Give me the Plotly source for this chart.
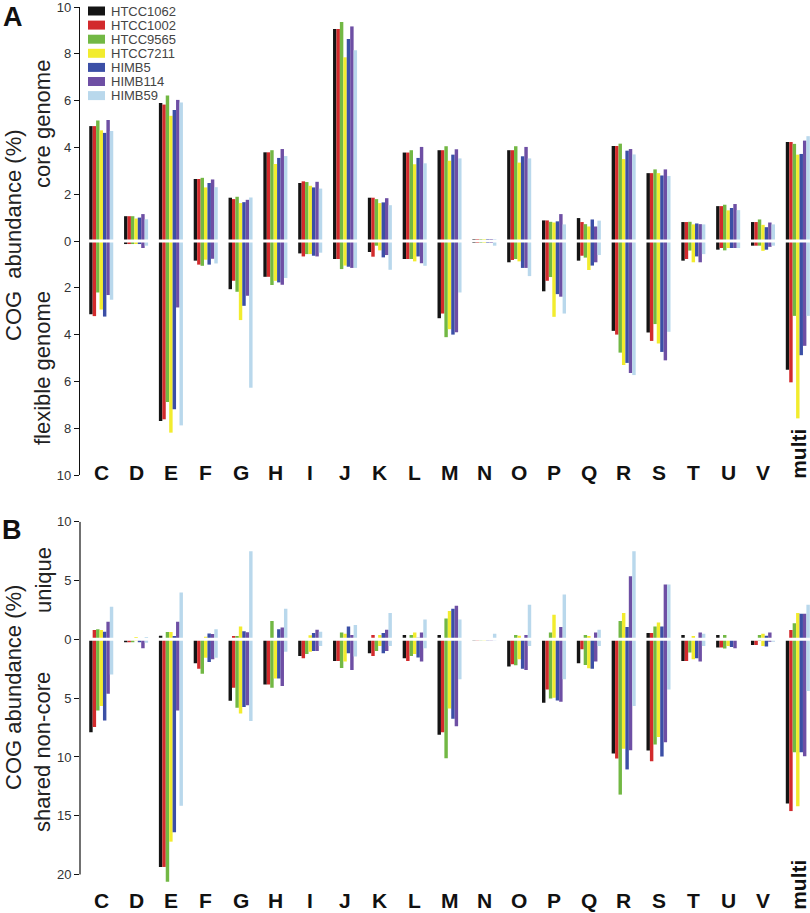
import plotly.graph_objects as go

CATS = ["C", "D", "E", "F", "G", "H", "I", "J", "K", "L", "M", "N", "O", "P", "Q", "R", "S", "T", "U", "V", "multi"]
STRAINS = ["HTCC1062", "HTCC1002", "HTCC9565", "HTCC7211", "HIMB5", "HIMB114", "HIMB59"]
COLORS = ["#141414", "#d22a2c", "#72b844", "#f2ec2e", "#3b4fa6", "#6e4fa4", "#b9d8ec"]

# Panel A: core genome (up) and flexible genome (down), %
CORE = {
    "HTCC1062": [4.91, 1.06, 5.90, 2.65, 1.85, 3.79, 2.48, 9.06, 1.85, 3.78, 3.88, 0.05, 3.88, 0.88, 0.98, 4.06, 2.90, 0.81, 1.49, 0.81, 4.23],
    "HTCC1002": [4.91, 1.06, 5.83, 2.65, 1.79, 3.79, 2.55, 9.06, 1.85, 3.78, 3.88, 0.05, 3.88, 0.88, 0.81, 4.06, 2.90, 0.81, 1.49, 0.81, 4.23],
    "HTCC9565": [5.15, 1.06, 6.22, 2.70, 1.89, 3.88, 2.52, 9.36, 1.79, 3.88, 4.05, 0.05, 4.05, 0.82, 0.72, 4.16, 3.06, 0.82, 1.55, 0.92, 4.15],
    "HTCC7211": [4.73, 0.96, 5.35, 2.29, 1.62, 3.29, 2.36, 7.85, 1.62, 3.28, 3.43, 0.05, 3.35, 0.79, 0.62, 3.50, 2.90, 0.71, 1.31, 0.69, 3.69],
    "HIMB5":    [4.62, 1.00, 5.60, 2.48, 1.66, 3.55, 2.29, 8.63, 1.65, 3.55, 3.69, 0.05, 3.62, 0.84, 0.92, 3.86, 2.80, 0.75, 1.41, 0.59, 3.72],
    "HIMB114":  [5.17, 1.15, 6.03, 2.63, 1.76, 3.93, 2.53, 9.17, 1.83, 4.02, 3.92, 0.05, 4.02, 1.15, 0.62, 3.93, 3.06, 0.72, 1.58, 0.79, 4.29],
    "HIMB59":   [4.70, 0.93, 5.92, 2.30, 1.86, 3.63, 2.24, 8.15, 1.53, 3.32, 3.53, 0.05, 3.53, 0.71, 0.87, 3.70, 2.78, 0.71, 1.32, 0.71, 4.48],
}
FLEX = {
    "HTCC1062": [3.13, 0.13, 7.69, 0.84, 2.06, 1.53, 0.53, 0.77, 0.47, 0.77, 3.30, 0.05, 0.91, 2.15, 0.84, 3.84, 3.91, 0.84, 0.37, 0.20, 5.50],
    "HTCC1002": [3.21, 0.13, 7.62, 1.01, 1.70, 1.53, 0.66, 0.77, 0.67, 0.77, 3.10, 0.05, 0.81, 1.70, 0.63, 4.00, 4.27, 0.77, 0.30, 0.20, 6.04],
    "HTCC9565": [2.20, 0.13, 6.88, 1.06, 2.17, 1.88, 0.56, 1.20, 0.20, 0.77, 4.11, 0.05, 0.77, 1.54, 0.71, 4.77, 3.55, 0.41, 0.40, 0.20, 3.20],
    "HTCC7211": [2.93, 0.13, 8.19, 0.80, 3.38, 1.70, 0.56, 1.05, 0.40, 0.87, 3.77, 0.05, 0.87, 3.24, 1.24, 5.30, 4.38, 0.91, 0.30, 0.42, 7.58],
    "HIMB5":    [3.23, 0.13, 7.19, 1.01, 2.77, 1.77, 0.63, 1.10, 0.70, 0.66, 4.00, 0.05, 1.15, 2.27, 1.05, 5.21, 4.74, 0.66, 0.30, 0.37, 4.88],
    "HIMB114":  [2.31, 0.30, 2.84, 0.76, 2.34, 1.87, 0.66, 1.15, 0.60, 0.95, 3.90, 0.05, 1.15, 2.38, 0.91, 5.64, 5.10, 0.91, 0.30, 0.25, 4.48],
    "HIMB59":   [2.51, 0.20, 7.88, 0.96, 6.27, 1.58, 0.50, 1.15, 1.23, 1.06, 2.20, 0.20, 1.50, 3.10, 0.60, 5.73, 3.88, 0.56, 0.30, 0.20, 3.20],
}
# Panel B: unique (up) and shared non-core (down), %
UNIQUE = {
    "HTCC1062": [0.00, 0.00, 0.30, 0.00, 0.00, 0.00, 0.00, 0.00, 0.00, 0.37, 0.37, 0.05, 0.00, 0.00, 0.00, 0.00, 0.54, 0.37, 0.37, 0.00, 0.00],
    "HTCC1002": [0.79, 0.00, 0.00, 0.00, 0.28, 0.00, 0.00, 0.00, 0.37, 0.00, 0.00, 0.05, 0.00, 0.00, 0.00, 0.00, 0.54, 0.00, 0.00, 0.00, 0.79],
    "HTCC9565": [0.85, 0.00, 0.62, 0.00, 0.28, 1.55, 0.00, 0.59, 0.00, 0.37, 1.78, 0.05, 0.37, 0.59, 0.37, 1.55, 1.10, 0.00, 0.37, 0.37, 1.36],
    "HTCC7211": [0.79, 0.20, 0.62, 0.22, 1.10, 0.00, 0.34, 0.48, 0.37, 0.59, 2.40, 0.05, 0.31, 2.09, 0.28, 2.23, 1.44, 0.28, 0.00, 0.48, 2.23],
    "HIMB5":    [0.65, 0.00, 0.28, 0.50, 0.68, 0.85, 0.54, 1.10, 0.54, 0.14, 2.60, 0.05, 0.00, 0.00, 0.00, 1.05, 1.10, 0.00, 0.00, 0.31, 2.18],
    "HIMB114":  [1.50, 0.00, 1.50, 0.45, 0.60, 1.00, 0.82, 0.37, 0.82, 0.59, 2.85, 0.05, 0.37, 1.05, 0.59, 5.37, 4.66, 0.59, 0.00, 0.59, 2.18],
    "HIMB59":   [2.77, 0.20, 3.98, 0.85, 7.48, 2.60, 0.65, 1.21, 2.23, 1.69, 1.69, 0.48, 2.94, 3.81, 0.82, 7.49, 4.66, 0.48, 0.00, 0.00, 2.94],
}
SHARED = {
    "HTCC1062": [7.89, 0.25, 19.35, 2.04, 5.22, 3.83, 1.41, 1.84, 1.19, 1.61, 8.11, 0.10, 2.32, 5.39, 2.03, 9.70, 9.45, 1.84, 0.70, 0.48, 13.96],
    "HTCC1002": [7.46, 0.25, 19.35, 2.50, 4.11, 3.83, 1.61, 1.84, 1.41, 1.84, 7.89, 0.10, 2.12, 4.26, 0.85, 10.13, 10.36, 1.84, 0.70, 0.48, 14.60],
    "HTCC9565": [6.04, 0.25, 20.60, 2.92, 5.81, 4.11, 1.24, 2.43, 0.99, 1.41, 10.10, 0.10, 2.20, 5.02, 2.18, 13.20, 8.94, 1.13, 0.79, 0.14, 9.59],
    "HTCC7211": [5.67, 0.10, 17.20, 1.56, 6.30, 3.32, 1.05, 1.89, 0.56, 1.24, 5.87, 0.10, 1.70, 4.96, 2.46, 9.30, 8.30, 1.70, 0.56, 0.56, 14.19],
    "HIMB5":    [6.90, 0.25, 16.40, 1.93, 5.75, 3.32, 1.00, 1.19, 1.19, 1.55, 6.75, 0.10, 2.50, 5.19, 2.51, 11.06, 9.96, 1.61, 0.65, 0.62, 9.60],
    "HIMB114":  [4.62, 0.76, 6.04, 1.70, 5.60, 3.97, 0.99, 2.60, 0.99, 1.89, 7.38, 0.10, 2.60, 5.30, 1.89, 9.42, 8.74, 1.89, 0.76, 0.20, 9.93],
    "HIMB59":   [3.00, 0.30, 14.15, 1.56, 6.95, 1.05, 0.56, 1.47, 0.56, 0.76, 3.40, 0.10, 0.56, 3.40, 0.56, 5.67, 4.26, 0.56, 0.00, 0.20, 4.40],
}

A_TICKS = [-10, -8, -6, -4, -2, 0, 2, 4, 6, 8, 10]
B_TICKS = [-20, -15, -10, -5, 0, 5, 10]

FONT = "Liberation Sans, Arial, sans-serif"
W, H = 810, 913
ML, MR, MT, MB = 80, 0, 7, 29
PW, PH = W - ML - MR, H - MT - MB


def px(xp):
    return (xp - ML) / PW


def py(yp):
    return (H - MB - yp) / PH


fig = go.Figure()
for s, c in zip(STRAINS, COLORS):
    fig.add_trace(go.Bar(
        x=CATS + CATS, y=CORE[s] + [-v for v in FLEX[s]],
        name=s, marker=dict(color=c, line=dict(width=0)),
        xaxis="x", yaxis="y", showlegend=False, cliponaxis=False))
for s, c in zip(STRAINS, COLORS):
    fig.add_trace(go.Bar(
        x=CATS + CATS, y=UNIQUE[s] + [-v for v in SHARED[s]],
        name=s, marker=dict(color=c, line=dict(width=0)),
        xaxis="x2", yaxis="y2", showlegend=False, cliponaxis=False))

xr = [-0.61, 20.35]
common_x = dict(type="category", categoryorder="array", categoryarray=CATS, range=xr,
                showticklabels=False, showline=False, ticks="", showgrid=False, zeroline=False,
                automargin=False, fixedrange=True)
tick_font = dict(family=FONT, size=13, color="#333")

dom_a = [py(475), 1.0]
dom_b = [0.0, py(521.7)]

fig.update_layout(
    template="none",
    width=W, height=H, margin=dict(l=ML, r=MR, t=MT, b=MB, autoexpand=False),
    paper_bgcolor="white", plot_bgcolor="white",
    barmode="group", bargap=0.31, bargroupgap=0,
    xaxis=dict(anchor="y", domain=[0, 1], **common_x),
    xaxis2=dict(anchor="y2", domain=[0, 1], **common_x),
    yaxis=dict(domain=dom_a, range=[-10, 10], tickvals=A_TICKS, automargin=False,
               ticktext=[str(abs(v)) for v in A_TICKS], ticks="outside", ticklen=5,
               tickcolor="#111", tickwidth=1, showline=True, linecolor="#111", linewidth=1.2,
               showgrid=False, zeroline=False, tickfont=tick_font, ticklabeloverflow="allow",
               fixedrange=True),
    yaxis2=dict(domain=dom_b, range=[-20.8, 10], tickvals=B_TICKS, automargin=False,
                ticktext=[str(abs(v)) for v in B_TICKS], ticks="outside", ticklen=5,
                tickcolor="#111", tickwidth=1, showline=False,
                showgrid=False, zeroline=False, tickfont=tick_font, ticklabeloverflow="allow",
                fixedrange=True),
    showlegend=False,
)

shapes = [
    dict(type="line", xref="paper", yref="y", x0=0.004, x1=1, y0=0, y1=0,
         line=dict(color="white", width=3), layer="above"),
    dict(type="line", xref="paper", yref="y2", x0=0.004, x1=1, y0=0, y1=0,
         line=dict(color="white", width=3), layer="above"),
    dict(type="line", xref="paper", yref="y2", x0=0, x1=0, y0=-20, y1=10,
         line=dict(color="#111", width=1.2)),
]

annotations = []
# category labels
for cat in CATS:
    for xref, ycen, ymulti in (("x", py(472), py(454)), ("x2", py(901), py(885))):
        if cat == "multi":
            annotations.append(dict(x=cat, xref=xref, y=ymulti, yref="paper", text="<b>multi</b>",
                                    textangle=-90, showarrow=False, xanchor="center", yanchor="middle",
                                    font=dict(family=FONT, size=21, color="#111")))
        else:
            annotations.append(dict(x=cat, xref=xref, y=ycen, yref="paper", text="<b>%s</b>" % cat,
                                    showarrow=False, xanchor="center", yanchor="middle",
                                    font=dict(family=FONT, size=21, color="#111")))

# axis titles
titles = [
    ("COG  abundance (%)", 13, 235),
    ("core genome", 43, 124),
    ("flexible genome", 42, 368),
    ("COG abundance (%)", 13, 688),
    ("unique", 44, 580),
    ("shared non-core", 42, 752),
]
for t, xx, yy in titles:
    annotations.append(dict(x=px(xx), y=py(yy), xref="paper", yref="paper", text=t, textangle=-90,
                            showarrow=False, xanchor="center", yanchor="middle",
                            font=dict(family=FONT, size=22, color="#222")))

# panel letters
for t, xx, yy in (("A", 13, 17), ("B", 12, 530)):
    annotations.append(dict(x=px(xx), y=py(yy), xref="paper", yref="paper", text="<b>%s</b>" % t,
                            showarrow=False, xanchor="center", yanchor="middle",
                            font=dict(family=FONT, size=27, color="#111")))

# legend (drawn manually to match compact spacing)
for i, (s, c) in enumerate(zip(STRAINS, COLORS)):
    yc = 11 + i * 14.1
    shapes.append(dict(type="rect", xref="paper", yref="paper",
                       x0=px(88), x1=px(105), y0=py(yc + 4.5), y1=py(yc - 4.5),
                       fillcolor=c, line=dict(width=0)))
    annotations.append(dict(x=px(109), y=py(yc), xref="paper", yref="paper", text=s,
                            showarrow=False, xanchor="left", yanchor="middle",
                            font=dict(family=FONT, size=13, color="#444")))

fig.update_layout(shapes=shapes, annotations=annotations)
fig.write_html("out.html", config={"responsive": False, "displayModeBar": False},
               post_script="document.body.style.margin='0';document.body.style.overflow='hidden';")
